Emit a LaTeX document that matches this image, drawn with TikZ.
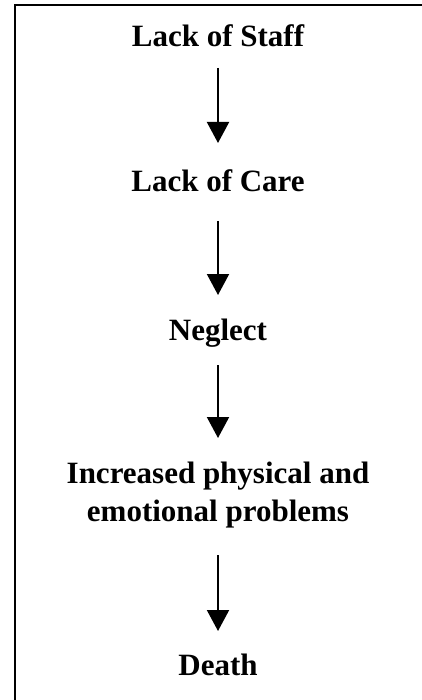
\documentclass[tikz,border=0pt]{standalone}
\usepackage{fontspec}
\setmainfont{Liberation Serif}
\usetikzlibrary{arrows.meta}
\tikzset{
  label/.style={font=\fontsize{31}{38}\selectfont\bfseries, inner sep=0pt, outer sep=0pt},
  oneline/.style={label, anchor=base, text height=22pt, text depth=0pt},
  flow/.style={line width=2pt, -{Triangle[width=22pt,length=21pt]}}
}
\begin{document}
\begin{tikzpicture}[x=1pt,y=-1pt]
\useasboundingbox (0,0) rectangle (421,700);
\draw[line width=2pt] (15,5.5) rectangle (440,720);
\node[oneline] (staff) at (218,47) {Lack of Staff};
\node[oneline] (care) at (218,192) {Lack of Care};
\node[oneline] (neglect) at (218,340) {Neglect};
\node[label, align=center, anchor=north] (problems) at (218,462) {Increased physical and\\emotional problems};
\node[oneline] (death) at (218,675) {Death};
\draw[flow, shorten <=21pt, shorten >=27pt] (staff.south) -- (care.north);
\draw[flow, shorten <=29pt, shorten >=23pt] (care.south) -- (neglect.north);
\draw[flow, shorten <=25pt, shorten >=24pt] (neglect.south) -- (problems.north);
\draw[flow, shorten <=27pt, shorten >=22pt] (problems.south) -- (death.north);
\end{tikzpicture}
\end{document}
